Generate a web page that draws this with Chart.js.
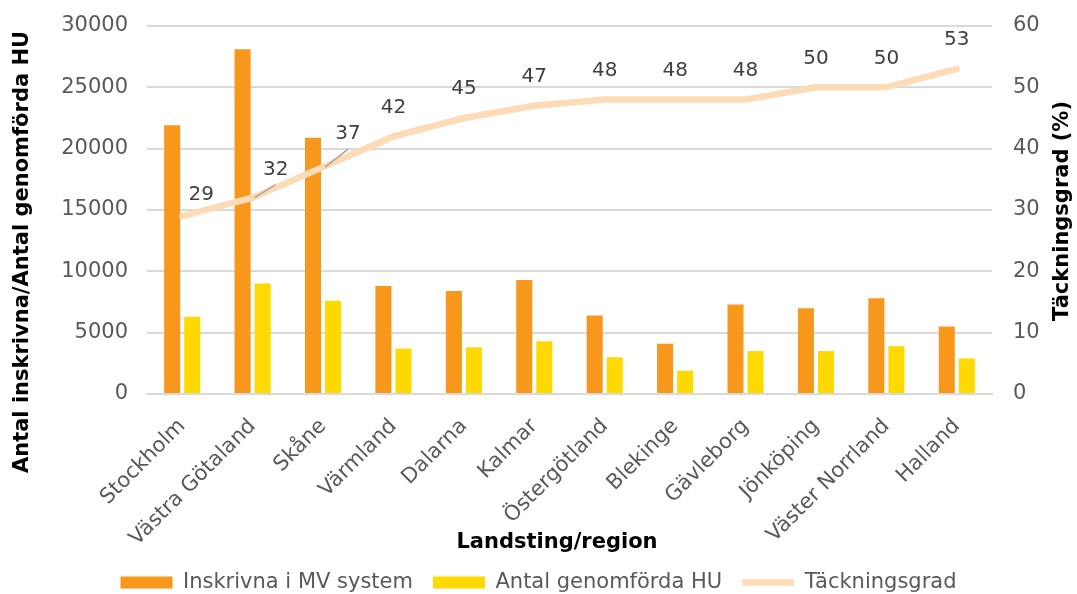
<!DOCTYPE html>
<html lang="sv">
<head>
<meta charset="UTF-8">
<title>Täckningsgrad per landsting</title>
<script src="https://cdn.jsdelivr.net/npm/chart.js"></script>
<style>
  html, body { margin: 0; padding: 0; background: #fff; }
  #wrap { width: 1077px; height: 594px; }
</style>
</head>
<body>
<div id="wrap"><canvas id="chart" width="1077" height="594"></canvas></div>
<script>
// Landsting/regioner, sorterade efter täckningsgrad
const regions = ['Stockholm', 'Västra Götaland', 'Skåne', 'Värmland', 'Dalarna', 'Kalmar',
  'Östergötland', 'Blekinge', 'Gävleborg', 'Jönköping', 'Väster Norrland', 'Halland'];
const enrolled = [21900, 28100, 20900, 8800, 8400, 9300, 6400, 4100, 7300, 7000, 7800, 5500];
const completedHU = [6300, 9000, 7600, 3700, 3800, 4300, 3000, 1900, 3500, 3500, 3900, 2900];
const coverage = [29, 32, 37, 42, 45, 47, 48, 48, 48, 50, 50, 53];

const leftMax = 30000, leftStep = 5000;
const rightMax = 60, rightStep = 10;

// a few labels sit beside the line instead of above it
const labelNudge = {
  0: { dx: 19, dy: -21 },
  1: { dx: 23, dy: -28, leader: true },
  2: { dx: 25, dy: -33, leader: true }
};

const FONT = "'DejaVu Sans', Verdana, sans-serif";
Chart.defaults.font.family = FONT;
Chart.defaults.font.size = 21;
Chart.defaults.color = '#595959';

const valueLabels = {
  id: 'valueLabels',
  afterDatasetsDraw(chart) {
    const ctx = chart.ctx;
    const meta = chart.getDatasetMeta(2);
    ctx.save();
    ctx.font = '20px ' + FONT;
    ctx.fillStyle = '#404040';
    ctx.textAlign = 'center';
    ctx.textBaseline = 'middle';
    meta.data.forEach((pt, i) => {
      const n = labelNudge[i] || { dx: 0, dy: -29 };
      const x = pt.x + n.dx, y = pt.y + n.dy;
      if (n.leader) {
        ctx.strokeStyle = '#a6a6a6';
        ctx.lineWidth = 1.5;
        ctx.beginPath();
        ctx.moveTo(pt.x + 2, pt.y);
        ctx.lineTo(x, y + 15);
        ctx.stroke();
      }
      ctx.fillText(String(coverage[i]), x, y);
    });
    ctx.restore();
  }
};

// axis titles drawn by hand so the right one reads bottom-up
function drawTitle(ctx, text, x, y, angle) {
  ctx.save();
  ctx.font = 'bold 21px ' + FONT;
  ctx.fillStyle = '#000';
  ctx.textAlign = 'center';
  ctx.textBaseline = 'middle';
  ctx.translate(x, y);
  ctx.rotate(angle);
  ctx.fillText(text, 0, 0);
  ctx.restore();
}

const axisTitles = {
  id: 'axisTitles',
  afterDraw(chart) {
    const ctx = chart.ctx;
    drawTitle(ctx, 'Landsting/region', 557, 543, 0);
    drawTitle(ctx, 'Antal inskrivna/Antal genomförda HU', 23, 252, -Math.PI / 2);
    drawTitle(ctx, 'Täckningsgrad (%)', 1063, 211, -Math.PI / 2);
  }
};

// fixed-width value axes; top/bottom of the plot come from layout padding
function fixAxis(width) {
  return scale => {
    scale.width = width;
    scale.paddingTop = 0;
    scale.paddingBottom = 0;
  };
}

const ctx = document.getElementById('chart').getContext('2d');
new Chart(ctx, {
  type: 'bar',
  data: {
    labels: regions,
    datasets: [
      {
        label: 'Inskrivna i MV system',
        data: enrolled,
        backgroundColor: '#F7981D',
        yAxisID: 'y',
        pointStyle: 'rect',
        order: 1
      },
      {
        label: 'Antal genomförda HU',
        data: completedHU,
        backgroundColor: '#FFDA00',
        yAxisID: 'y',
        pointStyle: 'rect',
        order: 1
      },
      {
        type: 'line',
        label: 'Täckningsgrad',
        data: coverage,
        borderColor: '#FCDBB6',
        backgroundColor: '#FCDBB6',
        borderWidth: 6.5,
        borderCapStyle: 'round',
        pointRadius: 0,
        pointStyle: 'line',
        tension: 0,
        yAxisID: 'y1',
        order: 0
      }
    ]
  },
  options: {
    responsive: false,
    animation: false,
    categoryPercentage: 0.57,
    barPercentage: 0.8,
    layout: { autoPadding: false, padding: { top: 26, left: 0, right: 0, bottom: -9 } },
    plugins: {
      tooltip: { enabled: false },
      legend: {
        position: 'bottom',
        labels: {
          usePointStyle: true,
          pointStyleWidth: 52,
          boxHeight: 12,
          padding: 20,
          color: '#595959',
          font: { size: 21 },
          sort: (a, b) => a.datasetIndex - b.datasetIndex
        }
      }
    },
    scales: {
      x: {
        grid: { display: false },
        border: { color: '#d9d9d9', width: 2 },
        ticks: { minRotation: 45, maxRotation: 45, padding: 12, color: '#595959' },
        afterFit(scale) { scale.height = 158; }
      },
      y: {
        position: 'left',
        min: 0,
        max: leftMax,
        ticks: { stepSize: leftStep, padding: 19, color: '#595959', callback: v => String(v) },
        grid: { color: '#d9d9d9', lineWidth: 2, drawTicks: false },
        border: { display: false },
        afterFit: fixAxis(147)
      },
      y1: {
        position: 'right',
        min: 0,
        max: rightMax,
        ticks: { stepSize: rightStep, padding: 21, color: '#595959' },
        grid: { display: false, drawTicks: false },
        border: { display: false },
        afterFit: fixAxis(85)
      }
    }
  },
  plugins: [valueLabels, axisTitles]
});
</script>
</body>
</html>
